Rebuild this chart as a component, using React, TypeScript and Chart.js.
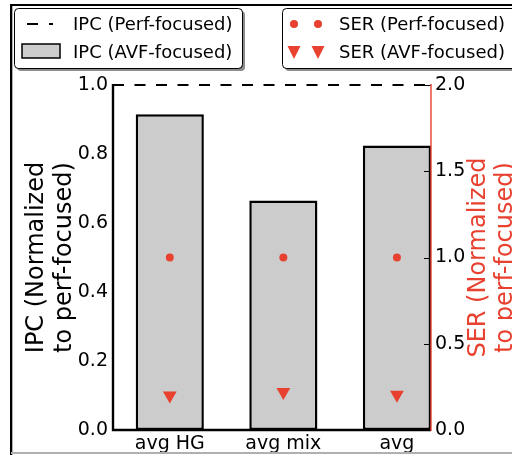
import React, { useEffect, useRef } from 'react';
import { Chart, registerables } from 'chart.js';
Chart.register(...registerables);

const categories = ['avg HG', 'avg mix', 'avg'];
const ipcAvf = [0.915, 0.665, 0.825];
const ipcPerf = 1.0;
const serPerf = [1.0, 1.0, 1.0];
const serAvf = [0.2, 0.22, 0.205];
const ipcTicks = [0, 0.2, 0.4, 0.6, 0.8, 1.0];
const serTicks = [0, 0.5, 1.0, 1.5, 2.0];
const X_MIN = -0.5;
const X_MAX = 2.3;

const RED = '#e8412f';
const FONT = "'DejaVu Sans', sans-serif";

function rrect(ctx: CanvasRenderingContext2D, x: number, y: number, w: number, h: number, r: number) {
  ctx.beginPath();
  ctx.moveTo(x + r, y);
  ctx.lineTo(x + w - r, y);
  ctx.quadraticCurveTo(x + w, y, x + w, y + r);
  ctx.lineTo(x + w, y + h - r);
  ctx.quadraticCurveTo(x + w, y + h, x + w - r, y + h);
  ctx.lineTo(x + r, y + h);
  ctx.quadraticCurveTo(x, y + h, x, y + h - r);
  ctx.lineTo(x, y + r);
  ctx.quadraticCurveTo(x, y, x + r, y);
  ctx.closePath();
}

function legendBox(ctx: CanvasRenderingContext2D, x: number, y: number, w: number, h: number) {
  ctx.fillStyle = 'rgba(0,0,0,0.45)';
  rrect(ctx, x + 3, y + 3, w, h, 4);
  ctx.fill();
  ctx.fillStyle = '#ffffff';
  rrect(ctx, x, y, w, h, 4);
  ctx.fill();
  ctx.strokeStyle = '#000';
  ctx.lineWidth = 1;
  rrect(ctx, x + 0.5, y + 0.5, w, h, 4);
  ctx.stroke();
}

function tri(ctx: CanvasRenderingContext2D, cx: number, cy: number) {
  ctx.beginPath();
  ctx.moveTo(cx - 6.5, cy - 6);
  ctx.lineTo(cx + 6.5, cy - 6);
  ctx.lineTo(cx, cy + 7);
  ctx.closePath();
  ctx.fill();
}

const overlay = {
  id: 'overlay',
  afterDatasetsDraw(chart: any) {
    const { ctx, chartArea: a, scales } = chart;
    ctx.save();
    // right inward ticks
    ctx.strokeStyle = '#000';
    ctx.lineWidth = 1;
    serTicks.forEach((v) => {
      const py = Math.round(scales.y2.getPixelForValue(v)) + 0.5;
      ctx.beginPath();
      ctx.moveTo(a.right - 7, py);
      ctx.lineTo(a.right, py);
      ctx.stroke();
    });
    // spines
    ctx.strokeStyle = '#000';
    ctx.lineWidth = 2.4;
    ctx.beginPath();
    ctx.moveTo(a.left, a.top - 1);
    ctx.lineTo(a.left, a.bottom);
    ctx.lineTo(a.right, a.bottom);
    ctx.stroke();
    ctx.strokeStyle = RED;
    ctx.lineWidth = 1.4;
    ctx.beginPath();
    ctx.moveTo(a.right, a.top - 1);
    ctx.lineTo(a.right, a.bottom + 1);
    ctx.stroke();
    ctx.restore();
  },
  afterDraw(chart: any) {
    const { ctx, chartArea: a } = chart;
    ctx.save();
    const cy = (a.top + a.bottom) / 2;
    // axis titles
    ctx.font = `24px ${FONT}`;
    ctx.textAlign = 'center';
    ctx.textBaseline = 'alphabetic';
    const drawTitle = (lines: string[], xs: number[], color: string) => {
      ctx.fillStyle = color;
      lines.forEach((ln, i) => {
        ctx.save();
        ctx.translate(xs[i], cy);
        ctx.rotate(-Math.PI / 2);
        ctx.fillText(ln, 0, 0);
        ctx.restore();
      });
    };
    drawTitle(['IPC (Normalized', 'to perf-focused)'], [43, 71], '#000');
    drawTitle(['SER (Normalized', 'to perf-focused)'], [485, 512], RED);

    // legends
    legendBox(ctx, 14, 8, 228, 60);
    legendBox(ctx, 282, 8, 240, 60);
    ctx.font = `18px ${FONT}`;
    ctx.textAlign = 'left';
    ctx.textBaseline = 'middle';
    ctx.fillStyle = '#000';
    ctx.fillText('IPC (Perf-focused)', 73, 25);
    ctx.fillText('IPC (AVF-focused)', 73, 53);
    ctx.fillText('SER (Perf-focused)', 339, 25);
    ctx.fillText('SER (AVF-focused)', 339, 53);
    // handles
    ctx.strokeStyle = '#000';
    ctx.lineWidth = 2;
    ctx.beginPath();
    ctx.moveTo(27, 24);
    ctx.lineTo(38, 24);
    ctx.moveTo(49, 24);
    ctx.lineTo(53, 24);
    ctx.stroke();
    ctx.fillStyle = '#cccccc';
    ctx.fillRect(22, 44, 38, 14);
    ctx.lineWidth = 1.5;
    ctx.strokeRect(22, 44, 38, 14);
    ctx.fillStyle = RED;
    [294, 318].forEach((x) => {
      ctx.beginPath();
      ctx.arc(x, 24, 4, 0, Math.PI * 2);
      ctx.fill();
      tri(ctx, x, 52);
    });

    // outer frame
    ctx.fillStyle = '#000';
    ctx.fillRect(11, 4, 501, 2);
    ctx.fillRect(10, 4, 2, 451);
    ctx.fillStyle = '#b0b0b0';
    ctx.fillRect(12, 6, 1, 449);
    ctx.fillRect(11, 452, 501, 2);
    ctx.restore();
  },
};

export default function App() {
  const ref = useRef<HTMLCanvasElement | null>(null);
  useEffect(() => {
    if (!ref.current) return;
    Chart.defaults.font.family = FONT;
    const chart = new Chart(ref.current, {
      type: 'bar',
      data: {
        datasets: [
          {
            type: 'scatter',
            label: 'SER (Perf-focused)',
            data: categories.map((_, i) => ({ x: i, y: serPerf[i] })),
            xAxisID: 'x',
            yAxisID: 'y2',
            pointStyle: 'circle',
            pointRadius: 4,
            backgroundColor: RED,
            borderWidth: 0,
            order: 1,
          } as any,
          {
            type: 'scatter',
            label: 'SER (AVF-focused)',
            data: categories.map((_, i) => ({ x: i, y: serAvf[i] })),
            xAxisID: 'x',
            yAxisID: 'y2',
            pointStyle: 'triangle',
            pointRotation: 180,
            pointRadius: 8,
            backgroundColor: RED,
            borderWidth: 0,
            order: 1,
          } as any,
          {
            type: 'line',
            label: 'IPC (Perf-focused)',
            data: [
              { x: X_MIN, y: ipcPerf },
              { x: X_MAX, y: ipcPerf },
            ],
            xAxisID: 'x',
            yAxisID: 'y',
            borderColor: '#000',
            borderWidth: 2,
            borderDash: [11, 10.5],
            pointRadius: 0,
            fill: false,
            clip: false,
            order: 5,
          } as any,
          {
            type: 'bar',
            label: 'IPC (AVF-focused)',
            data: categories.map((_, i) => ({ x: i, y: ipcAvf[i] })),
            xAxisID: 'x',
            yAxisID: 'y',
            backgroundColor: '#cccccc',
            borderColor: '#000',
            borderWidth: 2.5,
            borderSkipped: false,
            barPercentage: 0.6,
            categoryPercentage: 1,
            order: 10,
          } as any,
        ],
      },
      options: {
        animation: false,
        responsive: false,
        maintainAspectRatio: false,
        layout: { padding: { top: 85, left: 0, right: 0, bottom: 0 } },
        plugins: { legend: { display: false }, tooltip: { enabled: false } },
        scales: {
          x: {
            type: 'linear',
            position: 'bottom',
            min: X_MIN,
            max: X_MAX,
            offset: false,
            grid: { display: false, drawTicks: false },
            border: { display: false },
            afterBuildTicks: (s: any) => {
              s.ticks = categories.map((_, i) => ({ value: i }));
            },
            afterFit: (s: any) => {
              s.height = 25;
            },
            ticks: {
              padding: 3,
              color: '#000',
              font: { size: 19, family: FONT },
              maxRotation: 0,
              autoSkip: false,
              callback: (v: any) => categories[Math.round(Number(v))] ?? '',
            },
          },
          y: {
            type: 'linear',
            position: 'left',
            min: 0,
            max: 1,
            grid: { display: false, drawTicks: false },
            border: { display: false },
            afterBuildTicks: (s: any) => {
              s.ticks = ipcTicks.map((v) => ({ value: v }));
            },
            afterFit: (s: any) => {
              s.width = 113;
            },
            ticks: {
              padding: 5,
              color: '#000',
              font: { size: 19, family: FONT },
              callback: (v: any) => Number(v).toFixed(1),
            },
          },
          y2: {
            type: 'linear',
            position: 'right',
            min: 0,
            max: 2,
            grid: { display: false, drawTicks: false },
            border: { display: false },
            afterBuildTicks: (s: any) => {
              s.ticks = serTicks.map((v) => ({ value: v }));
            },
            afterFit: (s: any) => {
              s.width = 81;
            },
            ticks: {
              padding: 4,
              color: '#000',
              font: { size: 19, family: FONT },
              callback: (v: any) => Number(v).toFixed(1),
            },
          },
        },
      },
      plugins: [overlay],
    });
    return () => chart.destroy();
  }, []);
  return (
    <div style={{ position: 'absolute', left: 0, top: 0, width: 512, height: 455, background: '#fff' }}>
      <canvas ref={ref} width={512} height={455} style={{ display: 'block', width: 512, height: 455 }} />
    </div>
  );
}
